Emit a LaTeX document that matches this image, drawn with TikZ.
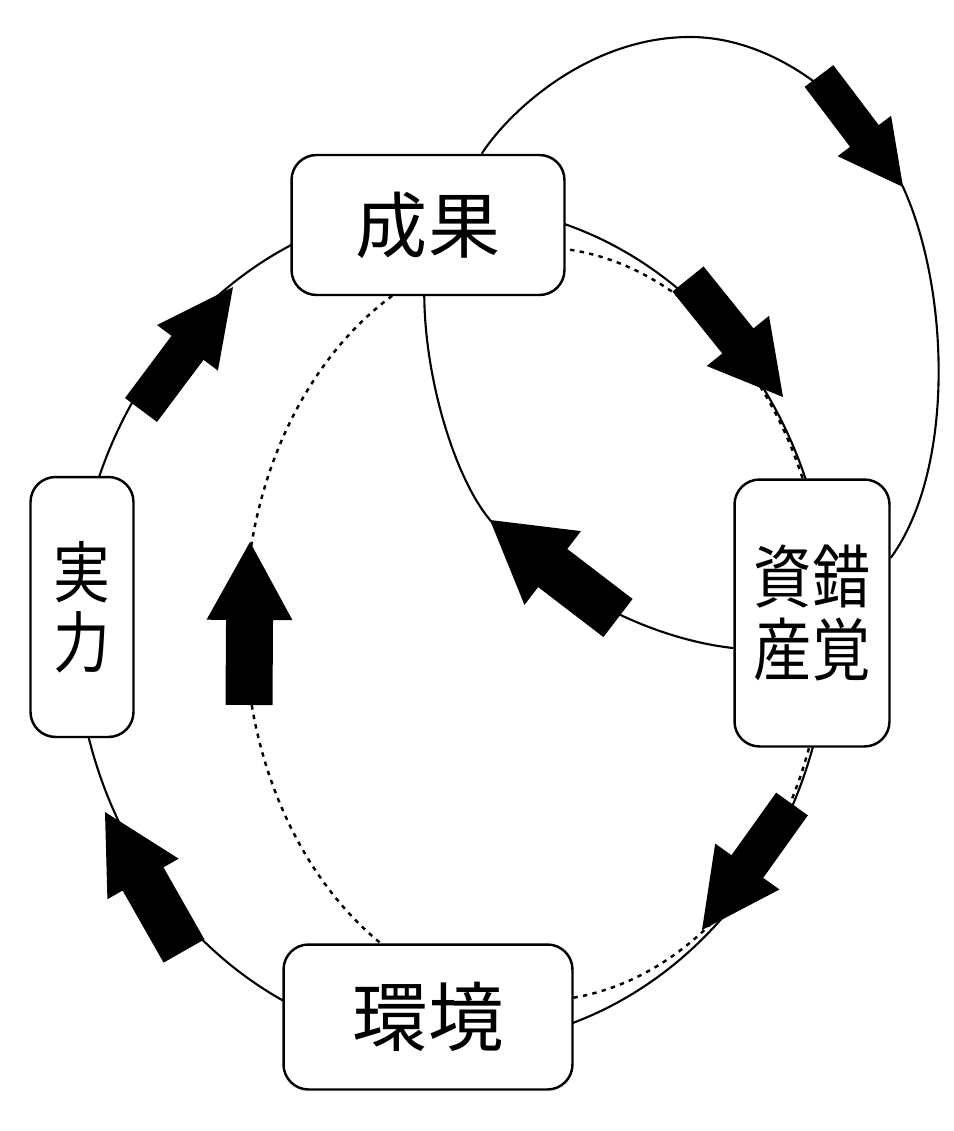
\documentclass[tikz,border=0pt]{standalone}
\usepackage{fontspec}
\newfontfamily\jp{Noto Sans CJK JP}
\usetikzlibrary{calc}

\tikzset{
  box/.style={draw, line width=1.4pt, fill=white, rounded corners=0.5cm, inner sep=0pt, align=center},
  ring/.style={line width=1.2pt},
  dots/.style={line width=1.4pt, dash pattern=on 2.5pt off 3pt},
}

% block arrow: tail, tip, half shaft, half head, head length
\newcommand{\blockarrow}[5]{%
  \coordinate (arrtail) at #1;
  \coordinate (arrtip) at #2;
  \coordinate (arrbase) at ($(arrtip)!#5!(arrtail)$);
  \fill ($(arrtail)!#3!90:(arrtip)$) -- ($(arrbase)!#3!90:(arrtip)$) -- ($(arrbase)!#4!90:(arrtip)$) -- (arrtip)
    -- ($(arrbase)!#4!-90:(arrtip)$) -- ($(arrbase)!#3!-90:(arrtip)$) -- ($(arrtail)!#3!-90:(arrtip)$) -- cycle;
}

\begin{document}
\begin{tikzpicture}[x=0.02cm, y=-0.02cm]
\useasboundingbox (0,0) rectangle (953,1131);

% the two rings
\draw[ring] (452,625) ellipse [x radius=377, y radius=420];
\draw[dots] (535,624) ellipse [x radius=290, y radius=377];

\node[box, minimum width=5.46cm, minimum height=2.8cm, font=\jp\fontsize{41}{41}\selectfont] (seika) at (428,225) {成果};
\node[box, minimum width=2.06cm, minimum height=5.2cm, font=\jp\fontsize{38}{40}\selectfont] (jitsuryoku) at (82,607) {\scalebox{0.85}[1]{実}\\\scalebox{0.85}[1]{力}};
\node[box, minimum width=3.1cm, minimum height=5.34cm, font=\jp\fontsize{39}{41}\selectfont] (shisan) at (812,613) {\scalebox{0.85}[1]{資錯}\\\scalebox{0.85}[1]{産覚}};
\node[box, minimum width=5.78cm, minimum height=2.9cm, font=\jp\fontsize{43}{43}\selectfont] (kankyo) at (428,1017) {環境};

% illusion loop
\draw[ring] (seika.53) .. controls (510,110) and (590,37) .. (690,37)
  .. controls (780,37) and (865,110) .. (903,187)
  .. controls (950,290) and (955,470) .. (shisan.35);
\draw[ring] (shisan.204) .. controls (660,640) and (565,600) .. (490,520)
  .. controls (455,478) and (425,380) .. (seika.267);

% arrows
\blockarrow{(141,410)}{(233,287)}{0.4cm}{0.76cm}{1.52cm}
\blockarrow{(688,279)}{(783,397)}{0.4cm}{0.8cm}{1.44cm}
\blockarrow{(819,76)}{(903,187)}{0.36cm}{0.67cm}{1.28cm}
\blockarrow{(618,618)}{(490,520)}{0.48cm}{0.93cm}{1.58cm}
\blockarrow{(792,804)}{(702,930)}{0.39cm}{0.79cm}{1.56cm}
\blockarrow{(184,951)}{(105,812)}{0.47cm}{0.82cm}{1.54cm}
\blockarrow{(249,705)}{(250,542)}{0.47cm}{0.86cm}{1.56cm}

\end{tikzpicture}
\end{document}
